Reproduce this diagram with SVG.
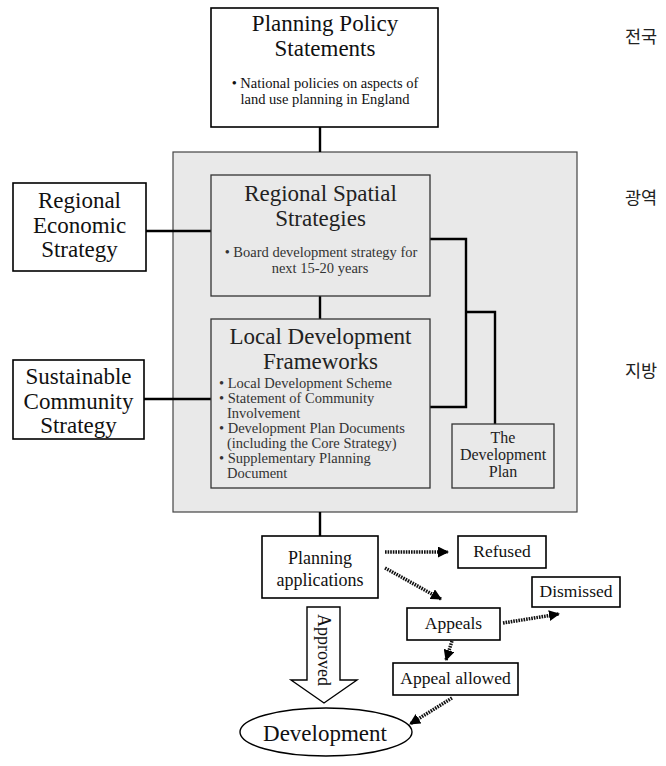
<svg xmlns="http://www.w3.org/2000/svg" width="666" height="766" viewBox="0 0 666 766">
<defs>
<style>
text{font-family:"Liberation Serif","Times New Roman",serif;fill:#111;}
.t{font-size:23px;text-anchor:middle;}
.tg{font-size:23px;text-anchor:middle;fill:#222;}
.b{font-size:14.5px;text-anchor:middle;}
.bg{font-size:14.5px;fill:#333;}
.s{font-size:17.5px;text-anchor:middle;}
.dp{font-size:16px;text-anchor:middle;fill:#222;}
.kr{font-family:"Noto Sans CJK KR","Noto Sans",sans-serif;font-size:17.5px;fill:#222;}
.box{fill:#fff;stroke:#000;stroke-width:1.6;}
.gbox{fill:#e9e9e9;stroke:#333;stroke-width:1.3;}
.con{fill:none;stroke:#000;stroke-width:2.4;}
.dot{fill:none;stroke:#111;stroke-width:3.5;stroke-dasharray:1.6 1;}
</style>
<marker id="ah" markerUnits="userSpaceOnUse" markerWidth="11" markerHeight="11" refX="10" refY="5.5" orient="auto">
<path d="M0,0 L11,5.5 L0,11 z" fill="#000"/>
</marker>
</defs>
<rect x="173" y="152" width="404" height="360" fill="#e9e9e9" stroke="#444" stroke-width="1.2"/>
<g id="connectors">
<path class="con" d="M320,127 V152"/>
<path class="con" d="M146,231 H211"/>
<path class="con" d="M144,399 H211"/>
<path class="con" d="M320,296 V319"/>
<path class="con" d="M430,239 H466 V407 H430"/>
<path class="con" d="M466,312 H495 V424" stroke-width="2"/>
<path class="con" d="M320,512 V536"/>
<path class="dot" d="M385,552 H448" marker-end="url(#ah)"/>
<path class="dot" d="M385,568 L441,599" marker-end="url(#ah)"/>
<path class="dot" d="M503,623 L559,614" marker-end="url(#ah)"/>
<path class="dot" d="M452,641 L446,660" marker-end="url(#ah)"/>
<path class="dot" d="M452,698 L410,724" marker-end="url(#ah)"/>
</g>
<g id="pps">
<rect class="box" x="211" y="8" width="227" height="119" stroke-width="2"/>
<text class="t" x="325" y="31">Planning Policy</text>
<text class="t" x="325" y="56">Statements</text>
<text class="b" x="325" y="88">• National policies on aspects of</text>
<text class="b" x="325" y="104">land use planning in England</text>
</g>
<g id="res">
<rect class="box" x="13" y="183" width="133" height="88"/>
<text class="t" x="79.5" y="208">Regional</text>
<text class="t" x="79.5" y="233">Economic</text>
<text class="t" x="79.5" y="257">Strategy</text>
</g>
<g id="rss">
<rect class="gbox" x="211" y="175" width="219" height="121"/>
<text class="tg" x="320.5" y="201">Regional Spatial</text>
<text class="tg" x="320.5" y="226">Strategies</text>
<text class="b" x="321" y="257" style="fill:#333">• Board development strategy for</text>
<text class="b" x="320" y="273" style="fill:#333">next 15-20 years</text>
</g>
<g id="ldf">
<rect class="gbox" x="211" y="319" width="219" height="169"/>
<text class="tg" x="320.5" y="344">Local Development</text>
<text class="tg" x="320.5" y="369">Frameworks</text>
<text class="bg" x="219" y="388">• Local Development Scheme</text>
<text class="bg" x="219" y="403">• Statement of Community</text>
<text class="bg" x="227" y="418">Involvement</text>
<text class="bg" x="219" y="433">• Development Plan Documents</text>
<text class="bg" x="227" y="448">(including the Core Strategy)</text>
<text class="bg" x="219" y="463">• Supplementary Planning</text>
<text class="bg" x="227" y="478">Document</text>
</g>
<g id="scs">
<rect class="box" x="13" y="360" width="131" height="79"/>
<text class="t" x="78.5" y="384">Sustainable</text>
<text class="t" x="78.5" y="409">Community</text>
<text class="t" x="78.5" y="433">Strategy</text>
</g>
<g id="devplan">
<rect class="gbox" x="452" y="424" width="102" height="64"/>
<text class="dp" x="503" y="443">The</text>
<text class="dp" x="503" y="460">Development</text>
<text class="dp" x="503" y="477">Plan</text>
</g>
<g id="labels">
<text class="kr" x="625" y="43">전국</text>
<text class="kr" x="625" y="204">광역</text>
<text class="kr" x="625" y="377">지방</text>
</g>
<g id="planapp">
<rect class="box" x="262" y="536" width="116" height="62"/>
<text class="s" x="320" y="564" style="font-size:18px">Planning</text>
<text class="s" x="320" y="586" style="font-size:18px">applications</text>
</g>
<g id="refused">
<rect class="box" x="458" y="536" width="88" height="32"/>
<text class="s" x="502" y="557">Refused</text>
</g>
<g id="dismissed">
<rect class="box" x="532" y="577" width="88" height="30"/>
<text class="s" x="576" y="597">Dismissed</text>
</g>
<g id="appeals">
<rect class="box" x="407" y="608" width="93" height="32"/>
<text class="s" x="453.5" y="629">Appeals</text>
</g>
<g id="allowed">
<rect class="box" x="393" y="663" width="125" height="32"/>
<text class="s" x="455.5" y="684">Appeal allowed</text>
</g>
<g id="approved">
<path d="M307,607 H340 V680 H357 L324,703 L291,680 H307 Z" fill="#fff" stroke="#000" stroke-width="1.4"/>
<text class="s" transform="translate(318,650) rotate(90)" style="font-size:18px">Approved</text>
</g>
<g id="development">
<ellipse cx="326" cy="732" rx="86" ry="24" fill="#fff" stroke="#000" stroke-width="1.4"/>
<text class="t" x="325" y="741">Development</text>
</g>
</svg>
